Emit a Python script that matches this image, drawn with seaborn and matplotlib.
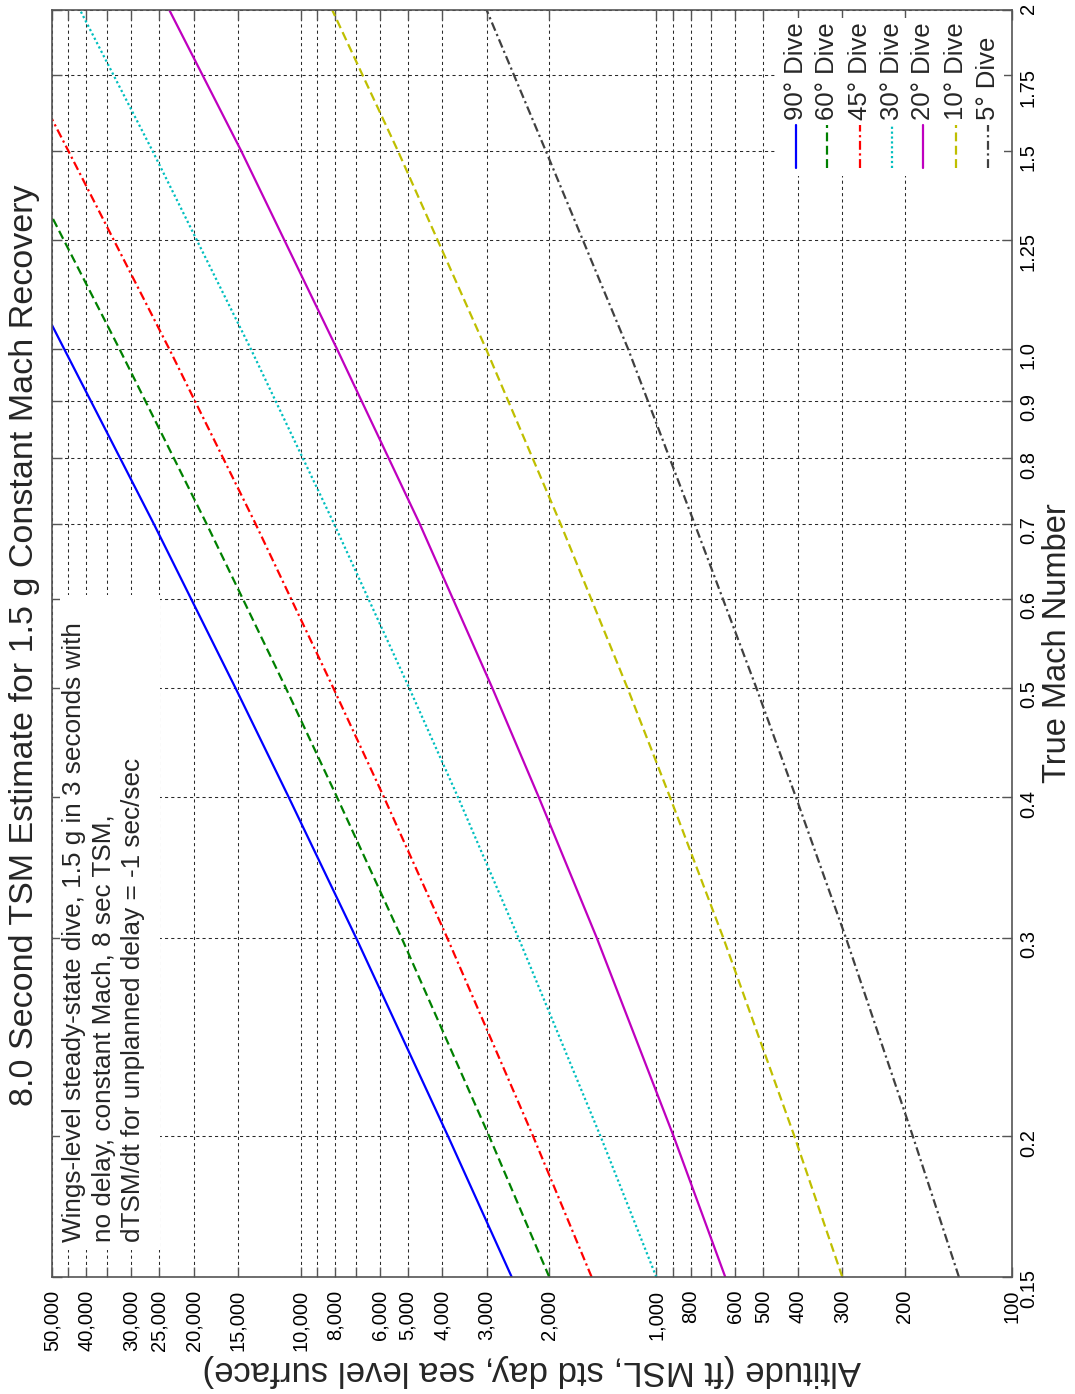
import matplotlib
matplotlib.use("Agg")
import matplotlib.pyplot as plt
from matplotlib.patches import Rectangle
from matplotlib.lines import Line2D
from matplotlib.ticker import FixedLocator, FixedFormatter, NullLocator
import pandas as pd
import seaborn as sns

# values: Mach number and altitude (ft) per dive angle
mach_90 = [0.15, 0.2, 0.3, 0.4, 0.5, 0.7, 1.0, 1.05]
alt_90 = [2550, 3850, 6980, 10800, 15240, 25900, 46200, 50000]
mach_60 = [0.15, 0.2, 0.3, 0.4, 0.5, 0.7, 1.0, 1.31]
alt_60 = [2000, 2950, 5200, 7900, 11000, 18400, 32300, 50000]
mach_45 = [0.15, 0.2, 0.3, 0.4, 0.5, 0.7, 1.0, 1.5, 1.6]
alt_45 = [1520, 2220, 3870, 5830, 8090, 13400, 23400, 45000, 50000]
mach_30 = [0.15, 0.2, 0.3, 0.4, 0.5, 0.7, 1.0, 1.5, 2.0]
alt_30 = [1000, 1435, 2440, 3610, 4950, 8060, 13800, 26100, 41700]
mach_20 = [0.15, 0.2, 0.3, 0.4, 0.5, 0.7, 1.0, 1.5, 2.0]
alt_20 = [640, 894, 1470, 2140, 2890, 4630, 7900, 14700, 23400]
mach_10 = [0.15, 0.2, 0.3, 0.4, 0.5, 0.7, 1.0, 1.5, 2.0]
alt_10 = [300, 409, 648, 915, 1205, 1860, 3010, 5330, 8150]
mach_5 = [0.15, 0.2, 0.3, 0.4, 0.5, 0.7, 1.0, 1.5, 2.0]
alt_5 = [141, 190, 293, 405, 523, 781, 1200, 2046, 3000]

dive_labels = ["90° Dive", "60° Dive", "45° Dive", "30° Dive", "20° Dive", "10° Dive", "5° Dive"]

alt_ticks = [100, 200, 300, 400, 500, 600, 700, 800, 900,
             1000, 2000, 3000, 4000, 5000, 6000, 7000, 8000, 9000,
             10000, 15000, 20000, 25000, 30000, 35000, 40000, 45000, 50000]
alt_tick_labels = ["100", "200", "300", "400", "500", "600", "", "800", "",
                   "1,000", "2,000", "3,000", "4,000", "5,000", "6,000", "", "8,000", "",
                   "10,000", "15,000", "20,000", "25,000", "30,000", "", "40,000", "", "50,000"]
mach_ticks = [0.15, 0.2, 0.3, 0.4, 0.5, 0.6, 0.7, 0.8, 0.9, 1.0, 1.25, 1.5, 1.75, 2.0]
mach_tick_labels = ["0.15", "0.2", "0.3", "0.4", "0.5", "0.6", "0.7", "0.8", "0.9", "1.0",
                    "1.25", "1.5", "1.75", "2"]

note = ("Wings-level steady-state dive, 1.5 g in 3 seconds with\n"
        "no delay, constant Mach, 8 sec TSM,\n"
        "dTSM/dt for unplanned delay = -1 sec/sec")

# long-form table for seaborn
frames = []
for lab, m, a in zip(dive_labels,
                     [mach_90, mach_60, mach_45, mach_30, mach_20, mach_10, mach_5],
                     [alt_90, alt_60, alt_45, alt_30, alt_20, alt_10, alt_5]):
    frames.append(pd.DataFrame({"dive": lab, "mach": m, "alt": a}))
df = pd.concat(frames, ignore_index=True)

line_styles = {
    "90° Dive": ("#0000ff", "-"),
    "60° Dive": ("#008000", (0, (4, 2))),
    "45° Dive": ("#ff0000", (0, (4, 1.6, 1, 1.6))),
    "30° Dive": ("#00bfbf", (0, (1, 1.2))),
    "20° Dive": ("#bf00bf", "-"),
    "10° Dive": ("#bfbf00", (0, (4, 2))),
    "5° Dive": ("#404040", (0, (4, 1.6, 1, 1.6))),
}

sns.set_theme(style="white")
plt.rcParams["font.family"] = ["Liberation Sans", "DejaVu Sans"]

fig = plt.figure(figsize=(10.75, 13.94), dpi=100)
# the chart is drawn turned a quarter turn: altitude runs across, Mach runs up
L, R, T, B = 52, 1012, 10, 1277
ax = fig.add_axes([L / 1075, 1 - B / 1394, (R - L) / 1075, (B - T) / 1394])
ax.set_xscale("log")
ax.set_yscale("log")


def fx(px):
    return (px - L) / (R - L)


def fy(py):
    return (B - py) / (B - T)


for lab in dive_labels:
    col, ls = line_styles[lab]
    sns.lineplot(data=df[df["dive"] == lab], x="alt", y="mach", sort=False,
                 estimator=None, color=col, linestyle=ls, linewidth=1.6, ax=ax)

ax.set_xlim(50000, 100)
ax.set_ylim(0.15, 2)

ax.xaxis.set_major_locator(FixedLocator(alt_ticks))
ax.xaxis.set_major_formatter(FixedFormatter(alt_tick_labels))
ax.xaxis.set_minor_locator(NullLocator())
ax.yaxis.set_major_locator(FixedLocator(mach_ticks))
ax.yaxis.set_major_formatter(FixedFormatter(mach_tick_labels))
ax.yaxis.set_minor_locator(NullLocator())

ax.tick_params(axis="both", which="major", direction="in", length=7, width=1,
               color="#555555", top=True, bottom=True, left=True, right=True,
               labelsize=14.5, labelcolor="black")
ax.tick_params(axis="x", labelrotation=90, pad=9)
ax.tick_params(axis="y", labelleft=False, labelright=True, labelrotation=90, pad=5)
ax.grid(True, which="major", color="#2a2a2a", linestyle=(0, (3, 3)), linewidth=0.75)
for sp in ax.spines.values():
    sp.set_color("#555555")
    sp.set_linewidth(1.2)

ax.set_xlabel("Altitude (ft MSL, std day, sea level surface)", fontsize=25, rotation=180)
ax.xaxis.label.set_va("center")
ax.xaxis.set_label_coords(0.5, fy(1370))
ax.yaxis.set_label_position("right")
ax.set_ylabel("True Mach Number", fontsize=23.5, rotation=90)
ax.yaxis.label.set_va("center")
ax.yaxis.set_label_coords(fx(1057), 0.5)

fig.text(25 / 1075, 1 - 645 / 1394,
         "8.0 Second TSM Estimate for 1.5 g Constant Mach Recovery",
         rotation=90, ha="center", va="center", fontsize=24.5)

# note box
ax.add_patch(Rectangle((fx(60), fy(1250)), fx(160) - fx(60), fy(595) - fy(1250),
                       transform=ax.transAxes, facecolor="white", edgecolor="none", zorder=1))
ax.text(fx(62), fy(1242), note, rotation=90, ha="left", va="bottom", fontsize=18.8,
        linespacing=1.3, transform=ax.transAxes, zorder=3)

# legend, drawn turned like the rest
ax.add_patch(Rectangle((fx(776), fy(176)), fx(1004) - fx(776), fy(18) - fy(176),
                       transform=ax.transAxes, facecolor="white", edgecolor="none", zorder=1))
leg_x = [796, 827, 860, 892, 923, 956, 988]
for px, lab in zip(leg_x, dive_labels):
    col, ls = line_styles[lab]
    ax.add_line(Line2D([fx(px), fx(px)], [fy(168), fy(125)], transform=ax.transAxes,
                       color=col, linestyle=ls, linewidth=1.6, zorder=3))
    ax.text(fx(px), fy(120), lab, rotation=90, ha="center", va="bottom", fontsize=18.5,
            transform=ax.transAxes, zorder=3)

fig.savefig("out.png", dpi=100)
